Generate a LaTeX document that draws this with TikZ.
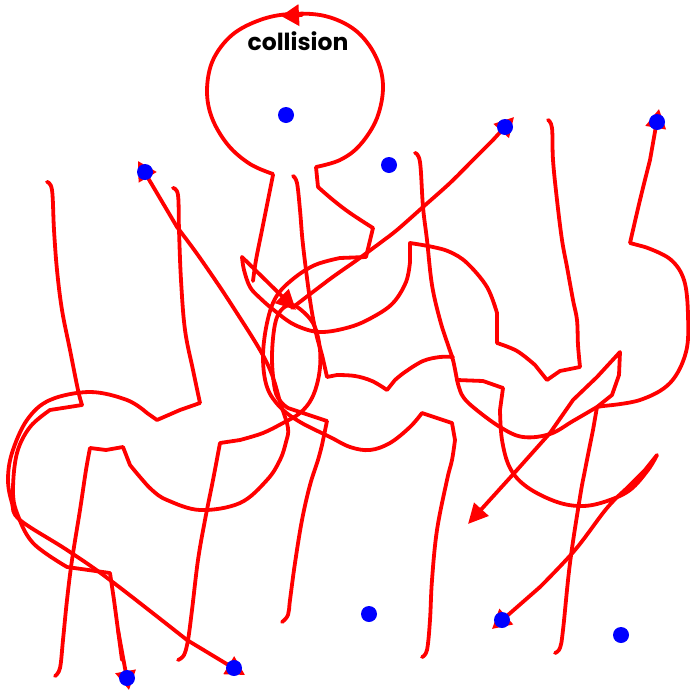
\documentclass[tikz,border=0pt]{standalone}
\usepackage{fontspec}
\newfontfamily\popp{Poppins}
\usetikzlibrary{arrows.meta}
\begin{document}
\begin{tikzpicture}[x=1pt,y=-1pt,
  stroke/.style={draw=red, line width=3.8, line join=round, line cap=round},
  tipped/.style={stroke, -{Triangle[length=19,width=20]}},
  bigtip/.style={stroke, -{Triangle[length=20,width=19]}},
  dot/.style={circle, fill=blue, inner sep=0pt, minimum size=16pt},
  lbl/.style={font=\popp\bfseries\fontsize{23.5}{25}\selectfont, text=black, inner sep=0pt}]
\useasboundingbox (0,0) rectangle (689,691);

% ---- head loop (top) ----
\draw[stroke] plot[smooth,tension=0.6] coordinates {(273,174) (250,164) (228,145) (212,118) (207,90) (213,60) (232,35) (260,20) (290,14) (325,16) (355,30) (375,55) (383,85) (377,118) (360,145) (340,160) (316,167)}
  -- plot[smooth,tension=0.6] coordinates {(318,187) (333,200) (350,213) (373,228)}
  -- (366,257)
  -- plot[smooth,tension=0.6] coordinates {(340,258) (315,265) (293,279) (276,297) (267,323) (263,357) (267,387) (280,407) (300,422) (330,437) (350,447) (370,450) (390,443) (410,427) (422,413)}
  -- (437,418) -- (452,423)
  -- plot[smooth,tension=0.6] coordinates {(455,440) (452,460) (447,480) (437,530) (432,580) (430,620) (427,650) (422,657)};
\draw[stroke, -{Triangle[length=18,width=21]}] (302,15) -- (281,16);
\node[lbl] (title) at (298,41) {collision};

% neck left
\draw[stroke] plot[smooth,tension=0.6] coordinates {(273,175) (268,200) (262,230) (256,260) (253,281)};

% middle vertical with bumps
\draw[stroke] plot[smooth,tension=0.6] coordinates {(293,176) (297,183) (300,210) (303,245) (310,300) (316,333) (322,355) (327,377)}
  -- plot[smooth,tension=0.6] coordinates {(337,375) (355,376) (372,381) (387,390)}
  -- plot[smooth,tension=0.6] coordinates {(395,380) (405,372) (423,361) (440,357) (453,357)};

% R1
\draw[stroke] plot[smooth,tension=0.6] coordinates {(415,153) (420,162) (423,207) (427,240) (432,285) (440,320) (448,345) (453,360) (457,380)}
  -- (483,381) -- (503,388)
  -- plot[smooth,tension=0.6] coordinates {(500,410) (502,440) (510,468) (527,487) (557,502) (583,506) (607,501) (630,490) (648,470) (657,455)}
  -- plot[smooth,tension=0.6] coordinates {(645,470) (628,487) (607,508) (575,550) (540,587)};
\draw[tipped] (540,587) -- (492,629);

% lower right circle arc
\draw[stroke] plot[smooth,tension=0.6] coordinates {(457,380) (462,395) (473,407) (500,427) (523,437) (550,434) (573,421) (597,407)};

% R2 right circle
\draw[stroke] plot[smooth,tension=0.6] coordinates {(650,160) (640,200) (630,243)}
  -- plot[smooth,tension=0.6] coordinates {(645,247) (670,259) (684,280) (688,315) (686,352) (670,383) (640,400) (603,406)}
  -- (597,407)
  -- plot[smooth,tension=0.6] coordinates {(593,430) (585,470) (580,497) (570,563) (563,630) (560,648) (555,653)};
\draw[tipped] (650,160) -- (659,109);

% big arrow
\draw[stroke] (597,407) -- (612,395) -- (619,375) -- (620,352) -- (597,377) -- (573,400) -- (550,433) -- (517,470);
\draw[bigtip] (517,470) -- (468,524);

% stroke from (548,120)
\draw[stroke] plot[smooth,tension=0.6] coordinates {(548,120) (552,128) (553,160) (557,200) (562,240) (567,267) (573,300) (577,320) (578,345) (580,367)}
  -- (560,371) -- (547,380)
  -- plot[smooth,tension=0.6] coordinates {(535,365) (517,351) (497,343)}
  -- plot[smooth,tension=0.6] coordinates {(497,313) (487,287) (467,263) (450,252) (433,247) (410,243)}
  -- plot[smooth,tension=0.6] coordinates {(410,262) (406,282) (393,303) (373,317) (350,327) (320,332) (295,325) (275,311) (260,298) (250,287) (244,270) (242,257)};
\draw[bigtip] (242,257) -- (296,310);

% diagonal to dot (505,127)
\draw[stroke] plot[smooth,tension=0.5] coordinates {(292,308) (330,279) (357,260) (380,243) (397,230) (423,207) (450,183) (473,160) (493,140)};
\draw[tipped] (493,140) -- (514,117);

% oval figure
\draw[stroke] plot[smooth,tension=0.6] coordinates {(178,660) (184,655) (188,640) (192,610) (198,560) (205,520) (213,480) (220,443)}
  -- plot[smooth,tension=0.6] coordinates {(240,440) (263,433) (283,423) (300,413) (312,398) (319,375) (320,350) (314,325) (300,309) (289,305) (279,313) (274,330) (272,360) (275,390) (281,402) (288,408)}
  -- (327,421)
  -- plot[smooth,tension=0.6] coordinates {(322,445) (318,460) (310,485) (302,520) (295,563) (290,600) (288,615) (282,622)};

% lower-left bowl + line to dot (145,172)
\draw[stroke] plot[smooth,tension=0.6] coordinates {(55,676) (60,668) (63,640) (67,600) (72,560) (80,510) (86,470) (90,448)}
  -- (106,450) -- (123,447)
  -- plot[smooth,tension=0.6] coordinates {(130,465) (140,477) (152,490) (167,500) (200,510) (240,503) (267,480) (280,460) (286,442) (288,428) (281,405) (267,363) (233,307) (200,258) (177,227)};
\draw[tipped] (177,227) -- (138,161);

% P2
\draw[stroke] plot[smooth,tension=0.6] coordinates {(173,188) (178,195) (179,230) (181,280) (185,330) (193,370) (200,403)}
  -- (180,410) -- (157,420)
  -- plot[smooth,tension=0.6] coordinates {(147,413) (127,400) (90,392) (50,400) (27,420) (12,453) (8,480) (12,503) (20,520) (67,550) (110,580) (187,640)};
\draw[tipped] (187,640) -- (245,675);

% P1
\draw[stroke] plot[smooth,tension=0.6] coordinates {(47,182) (52,190) (54,230) (57,270) (62,310) (70,350) (78,390) (82,405)}
  -- plot[smooth,tension=0.6] coordinates {(50,410) (30,427) (17,453) (13,490) (17,513) (33,543) (67,567)}
  -- (110,573)
  -- plot[smooth,tension=0.6] coordinates {(114,600) (118,630) (122,660)};
\draw[tipped] (118,630) -- (129,690);

% blue dots
\node[dot] (d1) at (286,115) {};
\node[dot] (d2) at (389,165) {};
\node[dot] (d3) at (145,172) {};
\node[dot] (d4) at (505,127) {};
\node[dot] (d5) at (657,122) {};
\node[dot] (d6) at (369,614) {};
\node[dot] (d7) at (502,620) {};
\node[dot] (d8) at (621,635) {};
\node[dot] (d9) at (127,678) {};
\node[dot] (d10) at (234,668) {};
\end{tikzpicture}
\end{document}
